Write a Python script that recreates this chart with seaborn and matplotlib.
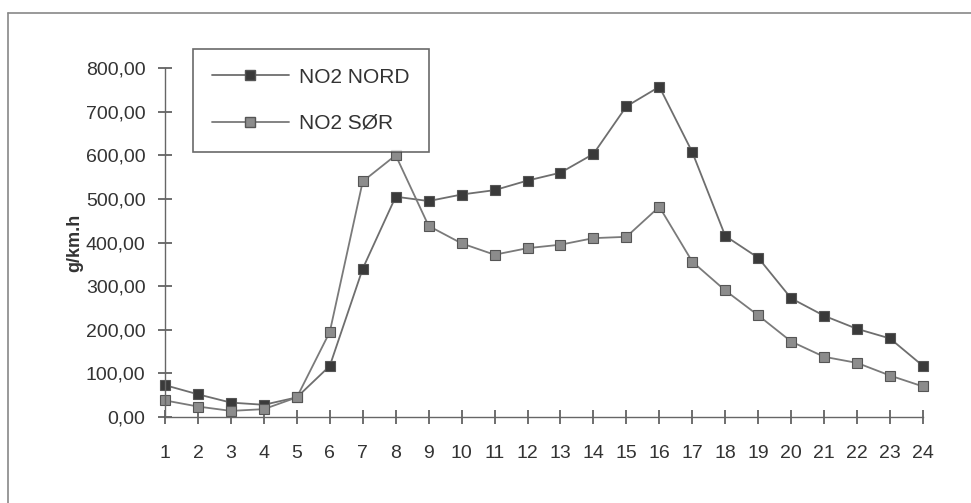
import matplotlib
matplotlib.use("Agg")
import matplotlib.pyplot as plt
import seaborn as sns
import pandas as pd
from matplotlib.lines import Line2D

hours = list(range(1, 25))
no2_nord = [73, 52, 33, 28, 45, 117, 340, 505, 495, 510, 520, 542, 560, 603,
            712, 757, 607, 415, 365, 272, 232, 202, 180, 117]
no2_sor = [38, 24, 14, 18, 45, 195, 540, 600, 438, 398, 372, 387, 395, 410,
           413, 482, 356, 290, 233, 173, 138, 124, 95, 70]
series_names = ["NO2 NORD", "NO2 SØR"]
y_ticks = [0, 100, 200, 300, 400, 500, 600, 700, 800]
y_tick_labels = ["0,00", "100,00", "200,00", "300,00", "400,00",
                 "500,00", "600,00", "700,00", "800,00"]

df = pd.DataFrame({
    "hour": hours * 2,
    "value": no2_nord + no2_sor,
    "series": [series_names[0]] * len(hours) + [series_names[1]] * len(hours),
})

sns.set_style("white", {"xtick.bottom": True, "ytick.left": True})
plt.rcParams["font.family"] = ["Liberation Sans", "DejaVu Sans"]

fig = plt.figure(figsize=(9.71, 5.03), dpi=100)
ax = fig.add_axes([165 / 971, 1 - 417 / 503, (923 - 165) / 971, (417 - 68) / 503])

sns.lineplot(data=df, x="hour", y="value", hue="series", style="series",
             palette={series_names[0]: "#6e6e6e", series_names[1]: "#7a7a7a"},
             markers={series_names[0]: "s", series_names[1]: "s"},
             dashes=False, linewidth=1.3, markersize=6.5, ax=ax, legend=False)

mfc = {0: "#3a3a3a", 1: "#8c8c8c"}
for i, line in enumerate(ax.get_lines()[:2]):
    line.set_markerfacecolor(mfc[i])
    line.set_markeredgecolor("#555555")
    line.set_markeredgewidth(0.8)
    line.set_clip_on(False)

ax.set_xlim(1, 24)
ax.set_ylim(0, 800)
ax.set_xticks(hours)
ax.set_xticklabels([str(h) for h in hours])
ax.set_yticks(y_ticks)
ax.set_yticklabels(y_tick_labels)
ax.tick_params(axis="both", which="major", direction="inout", length=10, width=1.2,
               color="#555555", labelsize=14, labelcolor="#333333",
               bottom=True, left=True)
ax.tick_params(axis="x", pad=15)
ax.tick_params(axis="y", pad=9)
ax.set_xlabel("")
ax.set_ylabel("g/km.h", fontsize=13, fontweight="bold", color="#333333")
ax.yaxis.set_label_coords((83 - 165) / (923 - 165), 0.5)
for s in ["top", "right"]:
    ax.spines[s].set_visible(False)
for s in ["left", "bottom"]:
    ax.spines[s].set_color("#666666")
    ax.spines[s].set_linewidth(1)
ax.patch.set_alpha(0)

handles = [
    Line2D([], [], color="#6e6e6e", lw=1.3, marker="s", markersize=6.5,
           markerfacecolor=mfc[0], markeredgecolor="#555555"),
    Line2D([], [], color="#7a7a7a", lw=1.3, marker="s", markersize=6.5,
           markerfacecolor=mfc[1], markeredgecolor="#555555"),
]
leg = ax.legend(handles, series_names, loc="upper left",
                bbox_to_anchor=((193 - 165) / (923 - 165), 1 + (68 - 49) / (417 - 68)),
                frameon=True, fancybox=False, fontsize=15, handlelength=3.7,
                labelspacing=1.3, borderpad=0.9, handletextpad=0.5,
                borderaxespad=0)
leg.get_frame().set_edgecolor("#444444")
leg.get_frame().set_linewidth(1.2)
for t in leg.get_texts():
    t.set_color("#333333")

fig.add_artist(Line2D([8 / 971, 8 / 971], [0, 1 - 13 / 503], transform=fig.transFigure,
                      color="#888888", lw=1.2))
fig.add_artist(Line2D([8 / 971, 1], [1 - 13 / 503, 1 - 13 / 503], transform=fig.transFigure,
                      color="#888888", lw=1.2))

fig.savefig("out.png", dpi=100)
